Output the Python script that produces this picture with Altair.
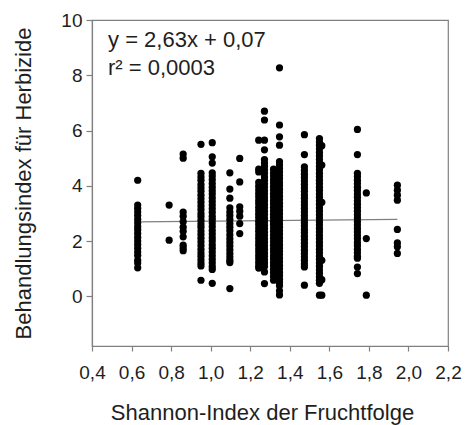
import altair as alt
import pandas as pd

# ---- data ----
col_x = [0.631, 0.790, 0.861, 0.951, 1.008, 1.097, 1.147, 1.243, 1.272, 1.318, 1.348,
         1.474, 1.550, 1.562, 1.742, 1.787, 1.944]

col_063 = [4.2, 3.3, 3.18, 3.05, 2.92, 2.78, 2.65, 2.52, 2.4, 2.27, 2.13, 2.0, 1.87, 1.74, 1.6, 1.48, 1.3, 1.2, 1.03]
col_079 = [3.3, 2.03]
col_086 = [5.15, 5.0, 3.05, 2.9, 2.7, 2.5, 2.35, 2.15, 1.85, 1.75, 1.65]
col_095 = [5.5, 4.45, 4.32, 4.2, 4.05, 3.92, 3.8, 3.66, 3.53, 3.4, 3.27, 3.14, 3.0, 2.88, 2.75, 2.62, 2.5,
           2.36, 2.23, 2.1, 1.97, 1.84, 1.7, 1.57, 1.45, 1.32, 1.2, 1.1, 0.58]
col_101 = [5.56, 5.05, 4.82, 4.47, 4.35, 4.22, 4.08, 3.95, 3.82, 3.7, 3.56, 3.43, 3.3, 3.17, 3.04, 2.9, 2.78,
           2.65, 2.52, 2.38, 2.25, 2.12, 2.0, 1.86, 1.73, 1.6, 1.47, 1.34, 1.21, 1.08, 0.97, 0.47]
col_110 = [4.47, 3.88, 3.55, 3.2, 3.05, 2.92, 2.78, 2.63, 2.5, 2.37, 2.22, 2.08, 1.95, 1.82, 1.68, 1.55, 1.42,
           1.3, 1.22, 0.28]
col_115 = [4.99, 4.14, 3.24, 3.08, 2.9, 2.63, 2.27]
col_124 = [5.65, 4.6, 4.5, 4.12, 3.98, 3.85, 3.72, 3.6, 3.47, 3.35, 3.22, 3.1, 2.97, 2.85, 2.72, 2.6, 2.47,
           2.35, 2.22, 2.1, 1.97, 1.85, 1.72, 1.6, 1.47, 1.35, 1.22, 1.1, 1.02]
col_127 = [6.7, 6.38, 5.65, 5.3, 4.95, 4.82, 4.7, 4.57, 4.45, 4.32, 4.2, 4.07, 3.95, 3.82, 3.7, 3.57, 3.45,
           3.32, 3.2, 3.07, 2.95, 2.82, 2.7, 2.57, 2.45, 2.32, 2.2, 2.07, 1.95, 1.82, 1.7, 1.57, 1.45, 1.32,
           1.2, 1.08, 0.88, 0.46]
col_132 = [4.6, 4.47, 4.35, 4.22, 4.1, 3.97, 3.85, 3.72, 3.6, 3.47, 3.35, 3.22, 3.1, 2.97, 2.85, 2.72, 2.6,
           2.47, 2.35, 2.22, 2.1, 1.97, 1.85, 1.72, 1.6, 1.47, 1.35, 1.22, 1.1, 0.97, 0.85, 0.72, 0.58]
col_135 = [8.27, 6.2, 5.77, 5.47, 4.87, 4.75, 4.62, 4.5, 4.37, 4.25, 4.12, 4.0, 3.87, 3.75, 3.62, 3.5, 3.37,
           3.25, 3.12, 3.0, 2.87, 2.75, 2.62, 2.5, 2.37, 2.25, 2.12, 2.0, 1.87, 1.75, 1.62, 1.5, 1.37, 1.25,
           1.12, 1.0, 0.87, 0.75, 0.62, 0.5, 0.38, 0.2, 0.05]
col_147 = [5.85, 5.13, 4.68, 4.55, 4.42, 4.3, 4.17, 4.05, 3.92, 3.8, 3.67, 3.55, 3.42, 3.3, 3.17, 3.05, 2.92,
           2.8, 2.67, 2.55, 2.42, 2.3, 2.17, 2.05, 1.92, 1.8, 1.67, 1.55, 1.42, 1.3, 1.17, 1.06, 0.4]
col_155 = [5.71, 5.58, 5.46, 5.33, 5.2, 5.08, 4.95, 4.83, 4.7, 4.58, 4.45, 4.33, 4.2, 4.08, 3.95, 3.83, 3.7,
           3.58, 3.45, 3.33, 3.2, 3.08, 2.95, 2.83, 2.7, 2.58, 2.45, 2.33, 2.2, 2.08, 1.95, 1.83, 1.7, 1.58,
           1.45, 1.33, 1.2, 1.08, 0.95, 0.83, 0.7, 0.58, 0.47, 0.04]
col_156 = [5.45, 4.75, 3.4, 1.3, 0.6, 0.04]
col_175 = [6.04, 5.13, 4.45, 4.33, 4.2, 4.08, 3.95, 3.83, 3.7, 3.58, 3.45, 3.33, 3.2, 3.08, 2.95, 2.83, 2.7,
           2.58, 2.45, 2.33, 2.2, 2.08, 1.95, 1.83, 1.7, 1.58, 1.45, 1.38, 1.06, 0.82]
col_179 = [3.74, 2.09, 0.04]
col_195 = [4.02, 3.84, 3.66, 3.48, 2.42, 1.93, 1.79, 1.55]

col_y = [col_063, col_079, col_086, col_095, col_101, col_110, col_115, col_124, col_127, col_132, col_135,
         col_147, col_155, col_156, col_175, col_179, col_195]

trend_x = [0.631, 1.944]
trend_y = [2.69, 2.78]

x_ticks = [0.4, 0.6, 0.8, 1.0, 1.2, 1.4, 1.6, 1.8, 2.0, 2.2]
y_ticks = [0, 2, 4, 6, 8, 10]

ann_lines = ["y = 2,63x + 0,07", "r\u00b2 = 0,0003"]
ann_x = [0.481, 0.481]
ann_y = [9.03, 8.0]

# ---- build tables ----
rows = []
for xv, ys in zip(col_x, col_y):
    for yv in ys:
        rows.append({"x": xv, "y": yv})
pts = pd.DataFrame(rows)
trend = pd.DataFrame({"x": trend_x, "y": trend_y})
ann = pd.DataFrame({"x": ann_x, "y": ann_y, "t": ann_lines})

TXT = "#1e1e1e"
GRAY = "#808080"

xscale = alt.Scale(domain=[0.4, 2.2], nice=False, zero=False)
yscale = alt.Scale(domain=[-1.8, 10], nice=False, zero=False)

xaxis = alt.Axis(values=x_ticks, title="Shannon-Index der Fruchtfolge", grid=False,
                 labelExpr="replace(format(datum.value, '.1f'), '.', ',')",
                 labelOverlap=False, labelFlush=False,
                 tickSize=5, labelPadding=27, labelBaseline="alphabetic",
                 titleX=170, titleY=73, titleBaseline="alphabetic", titleAnchor="middle")
yaxis = alt.Axis(values=y_ticks, title="Behandlungsindex für Herbizide", grid=False,
                 labelExpr="format(datum.value, 'd')",
                 labelOverlap=False, labelFlush=False,
                 tickSize=6, labelPadding=4,
                 titleX=-62, titleBaseline="alphabetic")

X = alt.X("x:Q", scale=xscale, axis=xaxis)
Y = alt.Y("y:Q", scale=yscale, axis=yaxis)

line = alt.Chart(trend).mark_line(color=GRAY, strokeWidth=1.3).encode(x=X, y=Y)
points = alt.Chart(pts).mark_circle(color="black", opacity=1, size=52).encode(x=X, y=Y)
text = alt.Chart(ann).mark_text(align="left", baseline="alphabetic", font="Liberation Sans",
                                fontSize=22, color=TXT).encode(x=X, y=Y, text="t:N")

chart = alt.layer(line, points, text).properties(
    width=356, height=326,
    autosize=alt.AutoSizeParams(type="none"),
    padding={"left": 92, "top": 20, "right": 17, "bottom": 79},
    background="white",
).configure_view(stroke=GRAY, strokeWidth=1.2).configure_axis(
    domainColor=GRAY, tickColor=GRAY, domainWidth=1.2, tickWidth=1.2,
    labelFont="Liberation Sans", labelFontSize=19, labelColor=TXT,
    titleFont="Liberation Sans", titleFontSize=22, titleColor=TXT, titleFontWeight="normal",
)

chart.save("out.html", embed_options={"renderer": "svg", "actions": False})
